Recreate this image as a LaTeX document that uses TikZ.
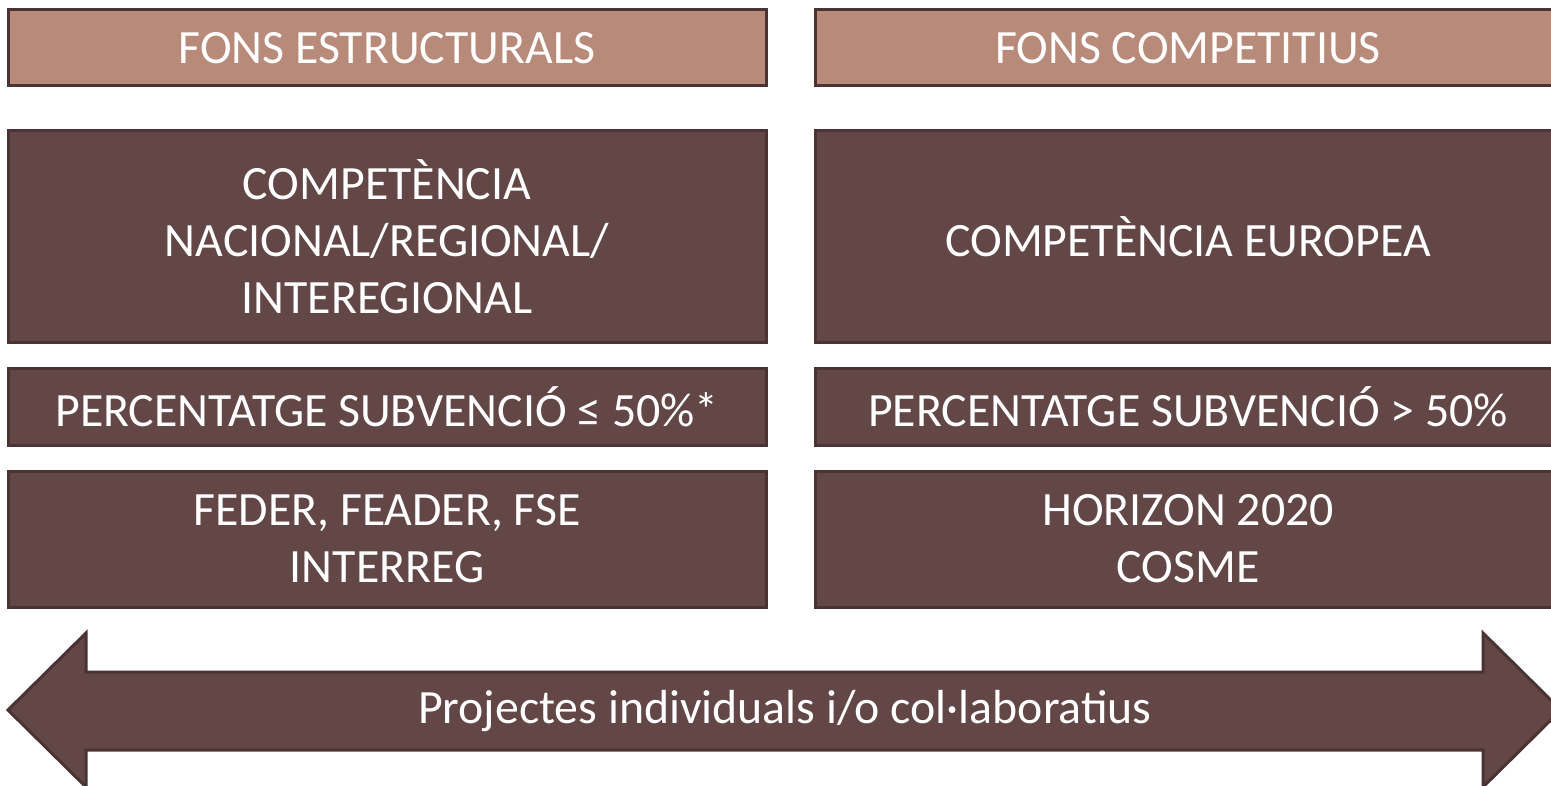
\documentclass[tikz,border=0pt]{standalone}
\usepackage{fontspec}
\setmainfont{Carlito}
\usetikzlibrary{calc}
\definecolor{topfill}{HTML}{B88A7A}
\definecolor{boxfill}{HTML}{634646}
\definecolor{boxline}{HTML}{4B3333}

\begin{document}
\begin{tikzpicture}[x=0.5pt,y=-0.5pt,
    cell/.style={draw=boxline, line width=1.5pt, fill=boxfill, text=white,
      align=center, inner sep=0pt, font=\fontsize{23.9pt}{28.5pt}\selectfont},
    head/.style={cell, fill=topfill}]
  \clip (0,0) rectangle (1551,786);

  %% Column headers
  \node[head, minimum width=379pt, minimum height=38pt] (estr) at (387,48) {FONS ESTRUCTURALS};
  \node[head, minimum width=373pt, minimum height=38pt] (comp) at (1188,48) {FONS COMPETITIUS};

  %% Rows below the headers
  \foreach \n/\y/\h/\l/\r in {
      ambit/236.5/105.5/{COMPETÈNCIA\\NACIONAL/REGIONAL/\\INTEREGIONAL}/{COMPETÈNCIA EUROPEA},
      perc/406.5/38.5/{PERCENTATGE SUBVENCIÓ ≤ 50\%*}/{PERCENTATGE SUBVENCIÓ > 50\%},
      prog/539/68/{FEDER, FEADER, FSE\\INTERREG}/{HORIZON 2020\\COSME}}
  {
    \node[cell, minimum width=379pt, minimum height=\h pt] (L\n) at (387,\y) {\l};
    \node[cell, minimum width=373pt, minimum height=\h pt] (R\n) at (1188,\y) {\r};
  }

  %% Double arrow at the bottom
  \draw[draw=boxline, line width=1.5pt, fill=boxfill]
    (8,710) -- (86,633) -- (86,672) -- (1483,672) -- (1483,633) -- (1561,710)
    -- (1483,787) -- (1483,750) -- (86,750) -- (86,787) -- cycle;
  \node[text=white, font=\fontsize{23.9pt}{28.5pt}\selectfont] (proj) at (785,711)
    {Projectes individuals i/o col·laboratius};
\end{tikzpicture}
\end{document}
